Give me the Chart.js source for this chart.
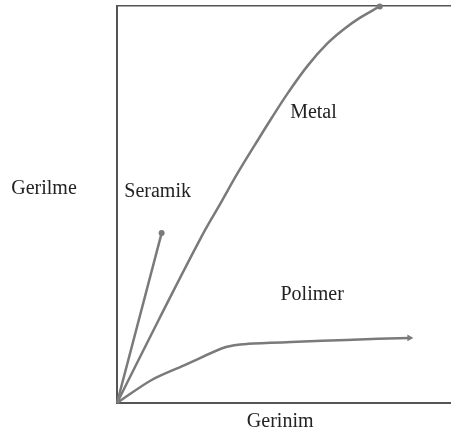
<!DOCTYPE html>
<html><head><meta charset="utf-8">
<script src="https://cdn.jsdelivr.net/npm/chart.js@4/dist/chart.umd.min.js"></script>
<style>html,body{margin:0;padding:0;background:#fff}#w{width:454px;height:439px}</style>
</head><body><div id="w"><canvas id="c"></canvas></div>
<script>
// Strain (x) and stress (y) in arbitrary units
const metalStrain  = [0, 12.5, 25.3, 31.3, 36.3, 41.4, 46.3, 51.5, 57.4, 63.1, 68.2, 72.9, 78.9];
const metalStress  = [0, 20.9, 41.8, 50.6, 58.0, 65.0, 71.6, 78.3, 85.1, 90.5, 94.2, 97.0, 99.9];
const ceramStrain  = [0, 13.4];
const ceramStress  = [0, 42.8];
const polyStrain   = [0, 10.4, 20.5, 32.7, 39.3, 54.2, 69.0, 87.8];
const polyStress   = [0, 5.8, 9.6, 14.1, 14.9, 15.4, 15.9, 16.4];
const labels = [
  {text:'Metal',   x:59, y:73.2},
  {text:'Seramik', x:12.2, y:53.1},
  {text:'Polimer', x:58.6, y:27.2}
];
const yTitle = 'Gerilme';
const xTitle = 'Gerinim';

const pts = (xs, ys) => xs.map((x,i)=>({x, y:ys[i]}));
const lineCol = '#7a7a7a';
const font = '20px "Liberation Serif", "Times New Roman", serif';

const textPlugin = {
  id:'texts',
  afterDraw(chart){
    const {ctx, scales:{x, y}, chartArea} = chart;
    ctx.save();
    ctx.fillStyle = '#222';
    ctx.font = font;
    ctx.textAlign = 'center';
    ctx.textBaseline = 'middle';
    labels.forEach(l => ctx.fillText(l.text, x.getPixelForValue(l.x), y.getPixelForValue(l.y)));
    ctx.fillText(yTitle, 44, y.getPixelForValue(54));
    ctx.fillText(xTitle, x.getPixelForValue(49), chartArea.bottom + 19);
    ctx.restore();
  }
};

const endDot = (n) => (c) => c.dataIndex === n-1 ? 3 : 0;
const hidden = {ticks:{display:false}, grid:{display:false, drawTicks:false}};

new Chart(document.getElementById('c'), {
  type:'line',
  data:{
    datasets:[
      {data:pts(metalStrain, metalStress), borderColor:lineCol, backgroundColor:lineCol, borderWidth:2.5,
       tension:0.4, pointRadius:endDot(metalStrain.length), pointBorderWidth:0, clip:false},
      {data:pts(ceramStrain, ceramStress), borderColor:lineCol, backgroundColor:lineCol, borderWidth:2.5,
       pointRadius:endDot(ceramStrain.length), pointBorderWidth:0, clip:false},
      {data:pts(polyStrain, polyStress), borderColor:lineCol, backgroundColor:lineCol, borderWidth:2.5,
       tension:0.3,
       pointStyle:'triangle', pointRotation:90,
       pointRadius:(c)=> c.dataIndex === polyStrain.length-1 ? 4 : 0, pointBorderWidth:0, clip:false}
    ]
  },
  options:{
    responsive:true, maintainAspectRatio:false, animation:false,
    layout:{padding:{left:117, top:6, right:0, bottom:36}},
    plugins:{legend:{display:false}, tooltip:{enabled:false}},
    scales:{
      x:{type:'linear', min:0, max:100, ...hidden, border:{display:true, color:'#555', width:2}},
      x2:{type:'linear', position:'top', min:0, max:100, ...hidden, border:{display:true, color:'#555', width:1.5}},
      y:{type:'linear', min:0, max:100, ...hidden, border:{display:true, color:'#555', width:2}}
    }
  },
  plugins:[textPlugin]
});
</script></body></html>
